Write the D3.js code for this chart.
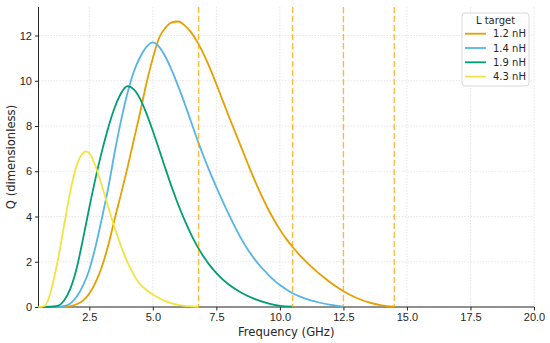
<!DOCTYPE html>
<html>
<head>
<meta charset="utf-8">
<script src="https://cdn.jsdelivr.net/npm/d3@7/dist/d3.min.js"></script>
<style>
	body { margin: 0; background: #fff; }
	svg { display: block; font-family: "DejaVu Sans", sans-serif; }
	.axis text { font-size: 11px; fill: #262626; }
	.axis path, .axis line { stroke: #262626; stroke-width: 1; }
	.grid line { stroke: #dedede; stroke-width: 0.8; stroke-dasharray: 1.5,1.5; }
</style>
</head>
<body>
<div id="chart"></div>
<script>
"use strict";

// Series data: [frequency GHz, Q]
var q12 = [[0.5,0],[1.5,0.01],[1.75,0.04],[2.0,0.12],[2.25,0.28],[2.5,0.6],[2.75,1.1],[3.0,1.8],[3.25,2.75],[3.5,3.9],[3.75,5.0],[4.0,6.15],[4.25,7.38],[4.5,8.6],[4.75,9.9],[5.0,11.0],[5.25,11.9],[5.5,12.35],[5.75,12.58],[6.0,12.62],[6.25,12.45],[6.5,12.15],[6.75,11.72],[7.0,11.18],[7.25,10.55],[7.5,9.85],[7.75,9.12],[8.0,8.4],[8.25,7.7],[8.5,7.0],[8.75,6.3],[9.0,5.62],[9.25,4.99],[9.5,4.41],[9.75,3.89],[10.0,3.42],[10.25,3.01],[10.5,2.65],[10.75,2.33],[11.0,2.04],[11.25,1.77],[11.5,1.52],[11.75,1.29],[12.0,1.07],[12.5,0.7],[13.0,0.41],[13.5,0.2],[14.0,0.07],[14.5,0.01]];
var q14 = [[0.5,0],[1.25,0.01],[1.5,0.04],[1.75,0.15],[2.0,0.45],[2.25,0.95],[2.5,1.65],[2.75,2.7],[3.0,3.95],[3.25,5.3],[3.5,6.85],[3.75,8.25],[4.0,9.45],[4.25,10.4],[4.5,11.05],[4.75,11.5],[5.0,11.7],[5.25,11.5],[5.5,11.05],[5.75,10.45],[6.0,9.75],[6.25,9.0],[6.5,8.2],[6.75,7.4],[7.0,6.65],[7.25,5.95],[7.5,5.3],[7.75,4.67],[8.0,4.07],[8.25,3.5],[8.5,2.98],[8.75,2.52],[9.0,2.12],[9.25,1.78],[9.5,1.48],[9.75,1.2],[10.0,0.97],[10.5,0.61],[11.0,0.37],[11.5,0.21],[12.0,0.09],[12.5,0.02]];
var q19 = [[0.5,0],[1.0,0.01],[1.25,0.05],[1.5,0.28],[1.75,0.8],[2.0,1.7],[2.25,3.0],[2.5,4.4],[2.75,5.72],[3.0,6.9],[3.25,7.95],[3.5,8.82],[3.75,9.45],[4.0,9.76],[4.25,9.62],[4.5,9.2],[4.75,8.55],[5.0,7.78],[5.25,6.95],[5.5,6.1],[5.75,5.28],[6.0,4.52],[6.25,3.84],[6.5,3.22],[6.75,2.68],[7.0,2.22],[7.25,1.83],[7.5,1.5],[8.0,0.98],[8.5,0.62],[9.0,0.36],[9.5,0.17],[10.0,0.05],[10.5,0.02]];
var q43 = [[0.5,0],[0.75,0.05],[0.875,0.3],[1.0,0.75],[1.25,2.0],[1.5,3.55],[1.75,5.1],[2.0,6.25],[2.25,6.8],[2.35,6.88],[2.5,6.8],[2.75,6.2],[3.0,5.35],[3.25,4.4],[3.5,3.5],[3.75,2.68],[4.0,1.98],[4.25,1.42],[4.5,1.0],[4.75,0.75],[5.0,0.55],[5.25,0.39],[5.5,0.26],[5.75,0.16],[6.0,0.09],[6.25,0.05],[6.5,0.03],[6.8,0.01]];

var seriesLabels = ["1.2 nH", "1.4 nH", "1.9 nH", "4.3 nH"];
var seriesColors = ["#E69F00", "#56B4E9", "#009E73", "#F0E442"];
var seriesData = [q12, q14, q19, q43];

// Self-resonance markers (GHz)
var srfLines = [6.8, 10.5, 12.5, 14.5];

var xTicks = [2.5, 5.0, 7.5, 10.0, 12.5, 15.0, 17.5, 20.0];
var yTicks = [0, 2, 4, 6, 8, 10, 12];

// Graph dimensions
var margin = { top: 7, right: 16, bottom: 36, left: 38.5 },
	width = 550 - margin.left - margin.right,
	height = 343 - margin.top - margin.bottom;

var x = d3.scaleLinear().domain([0.5, 20]).range([0, width]);
var y = d3.scaleLinear().domain([0, 13.26]).range([height, 0]);

var svg = d3.select("#chart").append("svg")
	.attr("width", 550)
	.attr("height", 343);

var canvas = svg.append("g")
	.attr("transform", "translate(" + margin.left + "," + margin.top + ")");

// Grid lines
canvas.append("g")
	.attr("class", "grid")
	.selectAll("line")
	.data(xTicks)
	.enter().append("line")
	.attr("x1", function (d) { return x(d); })
	.attr("x2", function (d) { return x(d); })
	.attr("y1", 0)
	.attr("y2", height);

canvas.append("g")
	.attr("class", "grid")
	.selectAll("line")
	.data(yTicks)
	.enter().append("line")
	.attr("x1", 0)
	.attr("x2", width)
	.attr("y1", function (d) { return y(d); })
	.attr("y2", function (d) { return y(d); });

// Axes
var xAxis = d3.axisBottom(x)
	.tickValues(xTicks)
	.tickSize(3.5)
	.tickPadding(3)
	.tickFormat(d3.format(".1f"));

var yAxis = d3.axisLeft(y)
	.tickValues(yTicks)
	.tickSize(3.5)
	.tickPadding(3)
	.tickFormat(d3.format("d"));

var gx = canvas.append("g")
	.attr("class", "x axis")
	.attr("transform", "translate(0," + height + ")")
	.call(xAxis);
gx.select(".domain").attr("d", "M0,0H" + width);

var gy = canvas.append("g")
	.attr("class", "y axis")
	.call(yAxis);
gy.select(".domain").attr("d", "M0," + height + "V0");

// Curves
var line = d3.line()
	.x(function (d) { return x(d[0]); })
	.y(function (d) { return y(d[1]); })
	.curve(d3.curveMonotoneX);

canvas.selectAll(".curve")
	.data(seriesData)
	.enter().append("path")
	.attr("class", "curve")
	.attr("fill", "none")
	.attr("stroke", function (d, i) { return seriesColors[i]; })
	.attr("stroke-width", 1.8)
	.attr("d", line);

// Dashed vertical markers
canvas.selectAll(".srf")
	.data(srfLines)
	.enter().append("line")
	.attr("class", "srf")
	.attr("x1", function (d) { return x(d); })
	.attr("x2", function (d) { return x(d); })
	.attr("y1", 0)
	.attr("y2", height)
	.attr("stroke", "#FFA500")
	.attr("stroke-opacity", 0.75)
	.attr("stroke-width", 1.4)
	.attr("stroke-dasharray", "6,3");

// Axis labels
svg.append("text")
	.attr("x", margin.left + width / 2)
	.attr("y", 335.5)
	.attr("text-anchor", "middle")
	.attr("font-size", "11.6px")
	.attr("fill", "#262626")
	.text("Frequency (GHz)");

svg.append("text")
	.attr("transform", "translate(15," + (margin.top + height / 2) + ") rotate(-90)")
	.attr("text-anchor", "middle")
	.attr("font-size", "11.6px")
	.attr("fill", "#262626")
	.text("Q (dimensionless)");

// Legend
var legend = svg.append("g")
	.attr("transform", "translate(462,13)");

legend.append("rect")
	.attr("width", 67)
	.attr("height", 73)
	.attr("rx", 3)
	.attr("fill", "#fff")
	.attr("fill-opacity", 0.85)
	.attr("stroke", "#cfcfcf")
	.attr("stroke-width", 0.8);

legend.append("text")
	.attr("x", 33.5)
	.attr("y", 10.5)
	.attr("text-anchor", "middle")
	.attr("font-size", "10px")
	.attr("fill", "#262626")
	.text("L target");

var items = legend.selectAll(".item")
	.data(seriesLabels)
	.enter().append("g")
	.attr("class", "item")
	.attr("transform", function (d, i) { return "translate(0," + (20.7 + i * 14.3) + ")"; });

items.append("line")
	.attr("x1", 3)
	.attr("x2", 24)
	.attr("stroke", function (d, i) { return seriesColors[i]; })
	.attr("stroke-width", 1.8);

items.append("text")
	.attr("x", 31)
	.attr("y", 3.6)
	.attr("font-size", "10px")
	.attr("fill", "#262626")
	.text(function (d) { return d; });
</script>
</body>
</html>
